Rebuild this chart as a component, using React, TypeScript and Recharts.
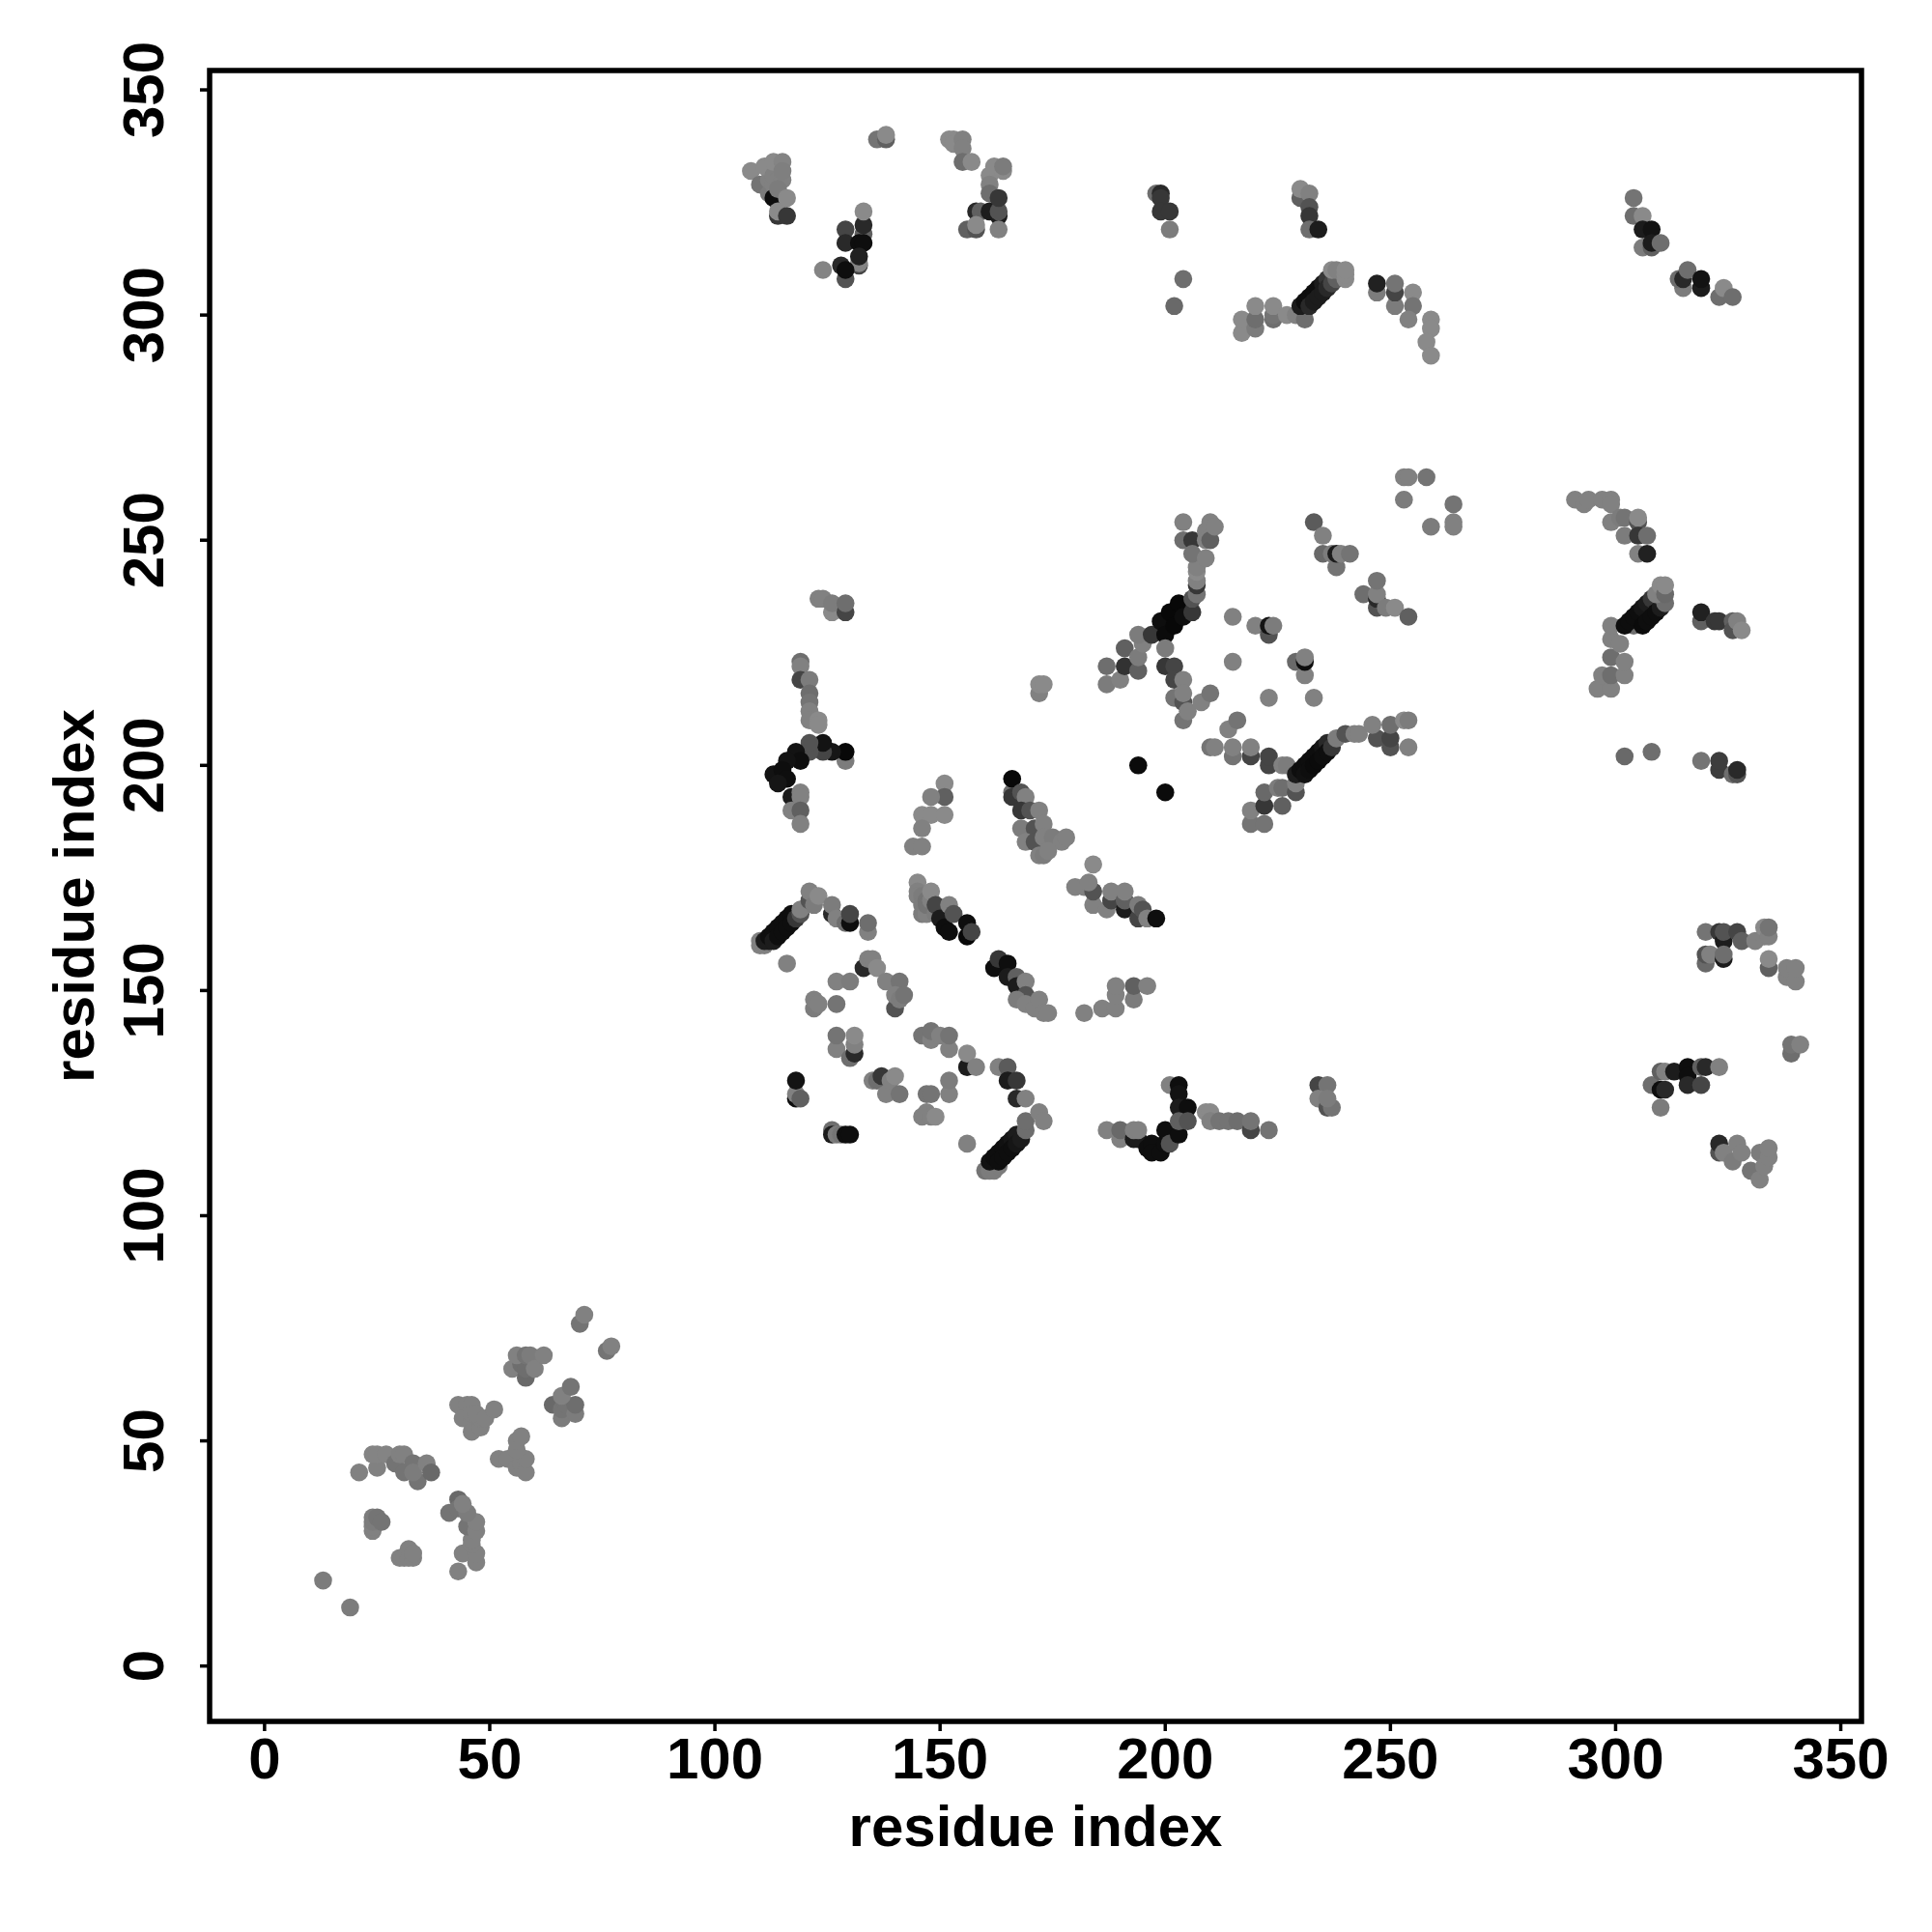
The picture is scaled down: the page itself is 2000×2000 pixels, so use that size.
import { Label, ReferenceArea, Scatter, ScatterChart, XAxis, YAxis, ZAxis, Cell } from "recharts";

// each point: residue x, residue y, grey level of the dot (0 = black, 1 = white)
type Pt = [number, number, number];

const TICKS = [0, 50, 100, 150, 200, 250, 300, 350];
const X_DOMAIN = [-12.2, 354.6];
const Y_DOMAIN = [-12.3, 354.3];

const nTerminal: Pt[] = [
  [13, 19, 0.45], [19, 13, 0.45],
  [24, 30, 0.47], [24, 31, 0.47], [24, 32, 0.45], [24, 33, 0.45], [25, 33, 0.42], [26, 32, 0.42],
  [30, 24, 0.47], [31, 24, 0.47], [32, 24, 0.47], [33, 24, 0.47], [32, 26, 0.47], [33, 25, 0.47],
  [21, 43, 0.47], [25, 44, 0.47], [24, 47, 0.48], [25, 47, 0.48], [27, 47, 0.48], [29, 45, 0.42], [30, 47, 0.47],
  [31, 47, 0.47], [31, 43, 0.42], [33, 45, 0.42], [34, 41, 0.42], [33, 43, 0.45], [36, 45, 0.47], [37, 43, 0.38],
  [43, 21, 0.47], [44, 25, 0.47], [47, 23, 0.47], [47, 25, 0.47], [46, 27, 0.47], [46, 28, 0.47], [41, 34, 0.42], [43, 37, 0.38], [43, 35, 0.42],
  [45, 31, 0.42], [47, 30, 0.47], [47, 32, 0.47], [45, 34, 0.45], [44, 36, 0.47],
  [52, 46, 0.47], [54, 46, 0.47], [56, 44, 0.47], [57, 45, 0.47], [58, 43, 0.47], [58, 46, 0.47], [56, 48, 0.47], [56, 50, 0.47], [57, 51, 0.47],
  [43, 58, 0.47], [45, 58, 0.47], [46, 58, 0.47], [44, 55, 0.47], [46, 54, 0.47], [46, 52, 0.47], [46, 56, 0.47], [48, 53, 0.47], [48, 55, 0.47], [47, 56, 0.47], [49, 55, 0.47], [51, 57, 0.47],
  [55, 66, 0.47], [58, 64, 0.38], [57, 67, 0.4], [58, 66, 0.4], [56, 69, 0.47], [58, 69, 0.42], [59, 69, 0.45], [60, 66, 0.47], [62, 69, 0.47],
  [64, 58, 0.38], [66, 55, 0.45], [66, 57, 0.42], [67, 58, 0.42], [69, 56, 0.45], [69, 58, 0.4], [66, 60, 0.47], [68, 62, 0.42],
  [70, 76, 0.42], [71, 78, 0.47], [76, 70, 0.42], [77, 71, 0.47],
];

const topLeft: Pt[] = [
  [108, 332, 0.5], [110, 329, 0.42], [112, 327, 0.45], [112, 330, 0.47], [113, 329, 0.47], [111, 333, 0.5], [113, 331, 0.47], [113, 334, 0.5], [114, 330, 0.47], [115, 330, 0.47], [115, 334, 0.48], [115, 332, 0.46],
  [114, 322, 0.2], [113, 326, 0.05], [114, 328, 0.45], [114, 323, 0.5], [116, 326, 0.5], [116, 322, 0.2],
  [129, 319, 0.25], [133, 318, 0.35], [133, 320, 0.15], [133, 323, 0.5], [129, 316, 0.15], [132, 316, 0.05], [133, 316, 0.05],
  [132, 311, 0.25], [132, 311.5, 0.48], [132, 313, 0.12], [124, 310, 0.48], [129, 308, 0.3], [128, 311, 0.15], [129, 310, 0.05],
  [136, 339, 0.42], [138, 339, 0.35], [138, 340, 0.5],
  [152, 339, 0.5], [153, 339, 0.5], [153, 338, 0.5], [155, 339, 0.47], [155, 337, 0.47], [155, 334, 0.4], [157, 334, 0.5],
  [161, 331, 0.5], [161, 329, 0.47], [161, 327, 0.4], [162, 333, 0.5], [164, 332, 0.5], [164, 333, 0.45],
  [158, 323, 0.15], [159, 323, 0.35], [161, 323, 0.1], [163, 322, 0.1], [163, 323, 0.3], [163, 326, 0.2],
  [156, 319, 0.35], [158, 319, 0.3], [158, 320, 0.5], [163, 319, 0.47],
];

const topMiddle: Pt[] = [
  [198, 327, 0.4], [199, 327, 0.15], [199, 326, 0.2], [199, 323, 0.2], [201, 323, 0.2], [201, 319, 0.45], [204, 308, 0.4], [202, 302, 0.38],
  [230, 326, 0.35], [230, 328, 0.5], [232, 327, 0.47], [232, 324, 0.3], [232, 322, 0.2], [232, 319, 0.4], [234, 319, 0.1],
  [217, 296, 0.5], [217, 299, 0.5], [220, 297, 0.45], [220, 299, 0.4], [220, 302, 0.5], [224, 299, 0.4], [224, 300, 0.42], [224, 302, 0.5],
  [227, 300, 0.5], [229, 300, 0.47], [231, 299, 0.4],
  [230, 302, 0.1], [231, 303, 0.05], [232, 304, 0.05], [233, 305, 0.05], [234, 306, 0.05], [235, 307, 0.1], [236, 308, 0.2],
  [232, 302, 0.15], [233, 303, 0.1], [234, 304, 0.1], [235, 305, 0.1], [236, 306, 0.15], [237, 307, 0.25], [238, 308, 0.35],
  [237, 310, 0.5], [238, 310, 0.47], [240, 308, 0.5], [240, 309, 0.5], [240, 310, 0.5],
  [247, 305, 0.45], [247, 307, 0.12], [251, 302, 0.45], [251, 305, 0.25], [251, 307, 0.42], [255, 305, 0.5],
  [255, 302, 0.42], [254, 299, 0.47], [259, 299, 0.5], [259, 297, 0.5], [258, 294, 0.5], [259, 291, 0.5],
];

const topRight: Pt[] = [
  [304, 326, 0.42], [304, 322, 0.4], [306, 322, 0.5], [306, 315, 0.45], [308, 315, 0.35], [306, 319, 0.1], [308, 319, 0.07], [308, 316, 0.1], [310, 316, 0.4],
  [315, 306, 0.45], [314, 308, 0.4], [315, 308, 0.15], [316, 310, 0.4], [319, 306, 0.1], [319, 308, 0.07],
  [323, 304, 0.4], [324, 306, 0.5], [326, 304, 0.4],
];

const midLeft: Pt[] = [
  [123, 237, 0.47], [124, 237, 0.47], [126, 234, 0.5], [126, 236, 0.45], [129, 234, 0.25], [129, 236, 0.4],
  [119, 223, 0.4], [119, 222, 0.47], [119, 219, 0.25], [121, 219, 0.45], [121, 216, 0.4], [121, 214, 0.42], [121, 212, 0.47], [121, 210, 0.47],
  [123, 210, 0.5], [123, 209, 0.5],
  [129, 201, 0.45], [129, 203, 0.03], [126, 203, 0.08], [124, 203, 0.25], [124, 205, 0.07], [121, 203, 0.3], [121, 205, 0.3],
  [118, 203, 0.07], [119, 201, 0.05], [116, 201, 0.07], [113, 198, 0.07], [115, 199, 0.05], [116, 197, 0.05], [114, 196, 0.08],
  [117, 193, 0.1], [119, 194, 0.47], [119, 193, 0.47], [117, 190, 0.47], [119, 190, 0.35], [119, 187, 0.47],
  [151, 196, 0.5], [151, 193, 0.35], [148, 193, 0.47], [146, 189, 0.5], [148, 189, 0.5], [151, 189, 0.5], [146, 186, 0.47], [144, 182, 0.47], [146, 182, 0.47],
];

const midCentre: Pt[] = [
  [166, 194, 0.4], [166, 193, 0.2], [166, 197, 0.03], [168, 194, 0.3], [169, 193, 0.47], [168, 190, 0.2], [170, 190, 0.3], [172, 190, 0.47],
  [168, 186, 0.45], [171, 186, 0.3], [173, 187, 0.47], [169, 183, 0.47], [171, 183, 0.3], [173, 184, 0.47], [175, 184, 0.45], [177, 183, 0.47], [178, 184, 0.47],
  [172, 180, 0.47], [173, 180, 0.45], [174, 181, 0.47],
  [172, 216, 0.47], [172, 218, 0.5], [173, 218, 0.5],
  [180, 173, 0.47], [182, 173, 0.47], [184, 169, 0.47], [184, 172, 0.3], [183, 174, 0.47], [184, 178, 0.5],
  [187, 168, 0.47], [188, 170, 0.25], [188, 172, 0.47], [191, 168, 0.1], [191, 170, 0.35], [191, 172, 0.47],
  [194, 166, 0.25], [194, 169, 0.45], [195, 168, 0.3], [196, 166, 0.47], [198, 166, 0.05],
  [194, 200, 0.04], [200, 194, 0.04],
];

const midRightCluster: Pt[] = [
  [187, 222, 0.4], [187, 218, 0.45], [190, 219, 0.47], [191, 222, 0.18], [191, 226, 0.35], [194, 221, 0.35], [194, 224, 0.45], [195, 227, 0.47], [194, 229, 0.45],
  [197, 229, 0.2],
  [199, 232, 0.05], [201, 234, 0.03], [203, 236, 0.03], [200, 229, 0.04], [202, 231, 0.03], [204, 233, 0.05], [206, 234, 0.2],
  [206, 237, 0.3], [207, 238, 0.42], [207, 240, 0.2], [207, 241, 0.47], [207, 243, 0.5], [207, 244, 0.47],
  [204, 254, 0.47], [204, 250, 0.4], [206, 250, 0.2], [206, 247, 0.42], [209, 246, 0.47], [209, 252, 0.47], [210, 254, 0.47], [209, 250, 0.47], [210, 250, 0.35], [211, 253, 0.47],
  [200, 226, 0.45], [200, 222, 0.2], [202, 222, 0.25], [202, 219, 0.25], [204, 219, 0.47], [202, 215, 0.42], [204, 214, 0.3], [204, 216, 0.47],
  [204, 210, 0.42], [205, 212, 0.47], [208, 214, 0.47], [210, 216, 0.42],
  [215, 233, 0.47], [220, 231, 0.47], [223, 229, 0.3], [223, 231, 0.07], [224, 231, 0.45], [215, 223, 0.47],
  [229, 223, 0.38], [231, 220, 0.47], [231, 223, 0.05], [231, 224, 0.47], [223, 215, 0.47], [233, 215, 0.47],
  [233, 254, 0.33], [235, 247, 0.38], [235, 251, 0.47], [237, 247, 0.45], [238, 244, 0.42], [238, 247, 0.1], [239, 247, 0.47], [241, 247, 0.42],
  [244, 238, 0.4], [247, 235, 0.3], [247, 237, 0.15], [247, 238, 0.47], [247, 241, 0.42], [249, 235, 0.45], [251, 235, 0.5], [254, 233, 0.35],
  [253, 259, 0.45], [253, 264, 0.47], [254, 264, 0.47], [258, 264, 0.42], [259, 253, 0.45], [264, 258, 0.42], [264, 254, 0.47], [264, 253, 0.47],
];

const midRightBand: Pt[] = [
  [219, 187, 0.42], [219, 190, 0.47], [222, 187, 0.42], [222, 191, 0.2], [222, 194, 0.38], [225, 195, 0.45], [226, 191, 0.35], [226, 195, 0.4],
  [210, 204, 0.42], [211, 204, 0.47], [214, 208, 0.47], [216, 210, 0.42], [215, 202, 0.42], [215, 204, 0.47], [219, 202, 0.25], [219, 204, 0.47],
  [223, 200, 0.25], [223, 202, 0.25], [226, 200, 0.47], [227, 200, 0.45],
  [229, 194, 0.3], [229, 196, 0.47],
  [229, 198, 0.1], [230, 199, 0.05], [231, 200, 0.05], [232, 201, 0.05], [233, 202, 0.05], [234, 203, 0.05], [235, 204, 0.08], [236, 205, 0.15],
  [231, 198, 0.06], [232, 199, 0.05], [233, 200, 0.04], [234, 201, 0.04], [235, 202, 0.05], [236, 203, 0.05], [237, 204, 0.2],
  [238, 206, 0.45], [240, 207, 0.3], [242, 207, 0.47], [243, 207, 0.47],
  [247, 206, 0.3], [246, 209, 0.47], [250, 204, 0.3], [250, 206, 0.25], [250, 209, 0.4], [253, 210, 0.5], [254, 210, 0.45], [254, 204, 0.47],
];

const farRightTop: Pt[] = [
  [291, 259, 0.47], [293, 258, 0.47], [294, 259, 0.47], [297, 259, 0.47], [299, 259, 0.47], [299, 258, 0.47], [299, 254, 0.47], [301, 255, 0.45], [302, 255, 0.42],
  [305, 254, 0.3], [305, 255, 0.5], [302, 251, 0.45], [305, 251, 0.2], [307, 251, 0.4], [305, 247, 0.47], [307, 247, 0.12],
  [296, 217, 0.47], [299, 217, 0.47], [297, 220, 0.47], [299, 220, 0.4], [302, 220, 0.47], [299, 224, 0.4], [302, 223, 0.47], [299, 228, 0.47], [301, 227, 0.47], [299, 231, 0.47], [304, 231, 0.4],
  [302, 231, 0.05], [303, 232, 0.05], [304, 233, 0.05], [305, 234, 0.05], [306, 235, 0.08], [307, 236, 0.1], [308, 237, 0.2],
  [306, 231, 0.04], [307, 232, 0.05], [308, 233, 0.05], [309, 234, 0.05], [310, 235, 0.1], [311, 236, 0.4],
  [309, 238, 0.47], [310, 240, 0.5], [311, 238, 0.38], [311, 240, 0.5],
  [319, 232, 0.35], [319, 234, 0.12], [322, 232, 0.2], [323, 232, 0.2], [326, 232, 0.35], [326, 230, 0.3], [327, 232, 0.47], [328, 230, 0.5],
  [302, 202, 0.38], [308, 203, 0.4], [319, 201, 0.42], [323, 199, 0.22], [323, 201, 0.22], [326, 198, 0.4], [327, 198, 0.3], [327, 199, 0.15],
];

const farRightBottom: Pt[] = [
  [320, 163, 0.42], [323, 163, 0.2], [324, 161, 0.1], [324, 163, 0.3], [327, 163, 0.25], [328, 161, 0.35], [331, 161, 0.47],
  [333, 162, 0.47], [333, 164, 0.5], [334, 162, 0.47], [334, 164, 0.42],
  [320, 156, 0.38], [320, 158, 0.3], [321, 158, 0.47], [324, 157, 0.1], [324, 158, 0.4],
  [334, 155, 0.35], [334, 157, 0.5], [338, 153, 0.47], [338, 155, 0.47], [340, 152, 0.47], [340, 155, 0.47],
  [339, 136, 0.4], [339, 138, 0.42], [341, 138, 0.47],
  [310, 124, 0.45], [308, 129, 0.4], [310, 128, 0.05], [311, 128, 0.15], [310, 132, 0.35], [311, 132, 0.47], [313, 132, 0.1],
  [316, 133, 0.05], [316, 131, 0.05], [316, 129, 0.15], [319, 129, 0.25], [319, 133, 0.35], [320, 133, 0.15], [323, 133, 0.47],
  [323, 114, 0.3], [323, 116, 0.15], [324, 114, 0.47], [327, 116, 0.47], [326, 112, 0.45], [328, 114, 0.47], [330, 110, 0.42], [332, 108, 0.47],
  [332, 114, 0.45], [333, 111, 0.47], [334, 113, 0.47], [334, 115, 0.47],
];

const lowerLeft: Pt[] = [
  [110, 160, 0.47], [110, 161, 0.47], [111, 160, 0.47], [112, 161, 0.1],
  [111, 161, 0.1], [112, 162, 0.05], [113, 163, 0.05], [114, 164, 0.05], [115, 165, 0.05], [116, 166, 0.05], [117, 167, 0.05],
  [113, 161, 0.1], [114, 162, 0.05], [115, 163, 0.05], [116, 164, 0.05], [117, 165, 0.05], [118, 166, 0.2],
  [119, 167, 0.3], [119, 168, 0.47], [121, 170, 0.3], [121, 172, 0.47], [122, 169, 0.45], [123, 171, 0.5],
  [126, 167, 0.15], [126, 169, 0.45], [127, 166, 0.47], [129, 165, 0.4], [130, 165, 0.05], [130, 167, 0.25], [134, 163, 0.47], [134, 165, 0.4],
  [116, 156, 0.47],
  [133, 155, 0.15], [134, 157, 0.47], [135, 157, 0.47], [136, 155, 0.5],
  [127, 152, 0.47], [130, 152, 0.45],
  [122, 146, 0.45], [122, 148, 0.47], [123, 147, 0.47], [127, 147, 0.42],
  [138, 152, 0.47], [141, 152, 0.42], [140, 146, 0.3], [140, 149, 0.47], [141, 148, 0.45], [142, 149, 0.42],
  [127, 137, 0.47], [127, 140, 0.42], [130, 135, 0.4], [131, 136, 0.15], [131, 138, 0.47], [131, 140, 0.5],
  [146, 140, 0.42], [148, 139, 0.47], [148, 141, 0.42], [150, 140, 0.47], [152, 137, 0.47], [152, 140, 0.42],
  [156, 133, 0.1], [156, 136, 0.5], [158, 133, 0.47],
  [118, 126, 0.05], [118, 127, 0.47], [118, 130, 0.07], [119, 126, 0.35],
  [126, 119, 0.4], [126, 118, 0.1], [127, 118, 0.45], [128, 118, 0.42], [129, 118, 0.05], [130, 118, 0.05],
  [135, 130, 0.47], [136, 130, 0.4], [137, 131, 0.2], [138, 127, 0.47], [139, 130, 0.47], [140, 131, 0.5], [141, 127, 0.42],
  [147, 127, 0.42], [148, 127, 0.42], [152, 127, 0.47], [152, 130, 0.45],
  [146, 122, 0.47], [147, 123, 0.47], [148, 122, 0.47], [149, 122, 0.5],
];

const lowerCentre: Pt[] = [
  [145, 174, 0.5], [145, 172, 0.47], [145, 171, 0.47], [146, 171, 0.45], [146, 169, 0.45], [146, 167, 0.45], [147, 167, 0.47], [147, 170, 0.42], [147, 169, 0.42], [149, 167, 0.45], [148, 170, 0.47], [148, 172, 0.5],
  [149, 169, 0.25], [150, 166, 0.1], [151, 164, 0.05], [152, 163, 0.05], [152, 169, 0.47], [153, 167, 0.3], [156, 162, 0.03], [156, 165, 0.05], [157, 163, 0.25],
  [162, 155, 0.05], [163, 157, 0.2], [165, 156, 0.05], [165, 153, 0.1], [167, 153, 0.35], [167, 151, 0.1], [169, 152, 0.47],
  [169, 149, 0.3], [167, 148, 0.45], [169, 147, 0.47], [171, 146, 0.47], [172, 148, 0.47], [173, 145, 0.47], [174, 145, 0.47],
  [182, 145, 0.47], [186, 146, 0.47], [189, 146, 0.47], [189, 149, 0.47], [189, 151, 0.47], [193, 148, 0.45], [193, 151, 0.35], [196, 151, 0.47],
  [156, 116, 0.47],
  [163, 133, 0.47], [165, 133, 0.33], [165, 130, 0.1], [167, 130, 0.2], [167, 126, 0.15], [169, 126, 0.47],
  [160, 110, 0.42], [161, 110, 0.45], [162, 110, 0.45], [163, 111, 0.45],
  [161, 112, 0.06], [162, 113, 0.05], [163, 114, 0.05], [164, 115, 0.05], [165, 116, 0.06], [166, 117, 0.08], [167, 118, 0.1],
  [163, 112, 0.05], [164, 113, 0.05], [165, 114, 0.05], [166, 115, 0.05], [167, 116, 0.08], [168, 117, 0.1],
  [169, 119, 0.4], [169, 121, 0.4], [172, 123, 0.47], [173, 121, 0.47],
];

const lowerRight: Pt[] = [
  [187, 119, 0.47], [190, 117, 0.47], [190, 119, 0.38], [193, 117, 0.1], [194, 117, 0.1], [193, 119, 0.47], [194, 119, 0.47],
  [196, 115, 0.05], [197, 116, 0.05], [197, 114, 0.05], [199, 114, 0.05], [200, 116, 0.05], [200, 119, 0.05], [201, 116, 0.3], [203, 118, 0.05],
  [201, 129, 0.47], [203, 129, 0.05], [203, 127, 0.07], [203, 124, 0.1], [205, 124, 0.05], [203, 121, 0.35], [205, 121, 0.3],
  [209, 123, 0.5], [210, 123, 0.5], [210, 121, 0.47], [212, 121, 0.42], [214, 121, 0.42], [216, 121, 0.4], [219, 119, 0.25], [219, 121, 0.42], [223, 119, 0.42],
  [234, 129, 0.25], [236, 129, 0.42], [234, 126, 0.47], [236, 124, 0.3], [237, 124, 0.42], [236, 126, 0.45],
];

const clusters = [
  nTerminal, topLeft, topMiddle, topRight, midLeft, midCentre, midRightCluster,
  midRightBand, farRightTop, farRightBottom, lowerLeft, lowerCentre, lowerRight,
];
const points = clusters.flat().map(([x, y, grey]) => ({ x, y, grey }));

const font = { fontFamily: "Liberation Sans", fontWeight: 700, fontSize: 60, fill: "#000" };
const greyColor = (g: number) => {
  const v = Math.round(g * 275);
  return `rgb(${v},${v},${v})`;
};

const YTick = ({ x, y, payload }: any) => (
  <text {...font} x={x} y={y} textAnchor="middle" transform={`rotate(-90 ${x} ${y})`} dy={2}>
    {payload.value}
  </text>
);

const Dot = ({ cx, cy, fill }: any) => <circle cx={cx} cy={cy} r={9.3} fill={fill} />;

export default function App() {
  return (
    <div style={{ position: "absolute", left: 0, top: 0, width: 2000, height: 2000, background: "#fff" }}>
      <ScatterChart width={2000} height={2000} margin={{ top: 73, right: 73, bottom: 0, left: 0 }}>
        <XAxis
          type="number"
          dataKey="x"
          domain={X_DOMAIN}
          ticks={TICKS}
          height={218}
          tick={font}
          tickSize={10}
          tickMargin={6}
          axisLine={false}
          tickLine={{ stroke: "#000", strokeWidth: 3.5 }}
          allowDataOverflow
        >
          <Label value="residue index" position="insideBottom" offset={89} {...font} />
        </XAxis>
        <YAxis
          type="number"
          dataKey="y"
          domain={Y_DOMAIN}
          ticks={TICKS}
          width={217}
          tick={<YTick />}
          tickSize={10}
          tickMargin={40}
          axisLine={false}
          tickLine={{ stroke: "#000", strokeWidth: 3.5 }}
          allowDataOverflow
        >
          <Label value="residue index" angle={-90} position="insideLeft" offset={76} style={{ textAnchor: "middle" }} {...font} />
        </YAxis>
        <ZAxis range={[272, 272]} />
        <Scatter data={points} isAnimationActive={false} shape={<Dot />}>
          {points.map((p, i) => (
            <Cell key={i} fill={greyColor(p.grey)} />
          ))}
        </Scatter>
        <ReferenceArea
          x1={X_DOMAIN[0]}
          x2={X_DOMAIN[1]}
          y1={Y_DOMAIN[0]}
          y2={Y_DOMAIN[1]}
          fill="none"
          stroke="#000"
          strokeWidth={5.5}
          ifOverflow="visible"
        />
      </ScatterChart>
    </div>
  );
}
